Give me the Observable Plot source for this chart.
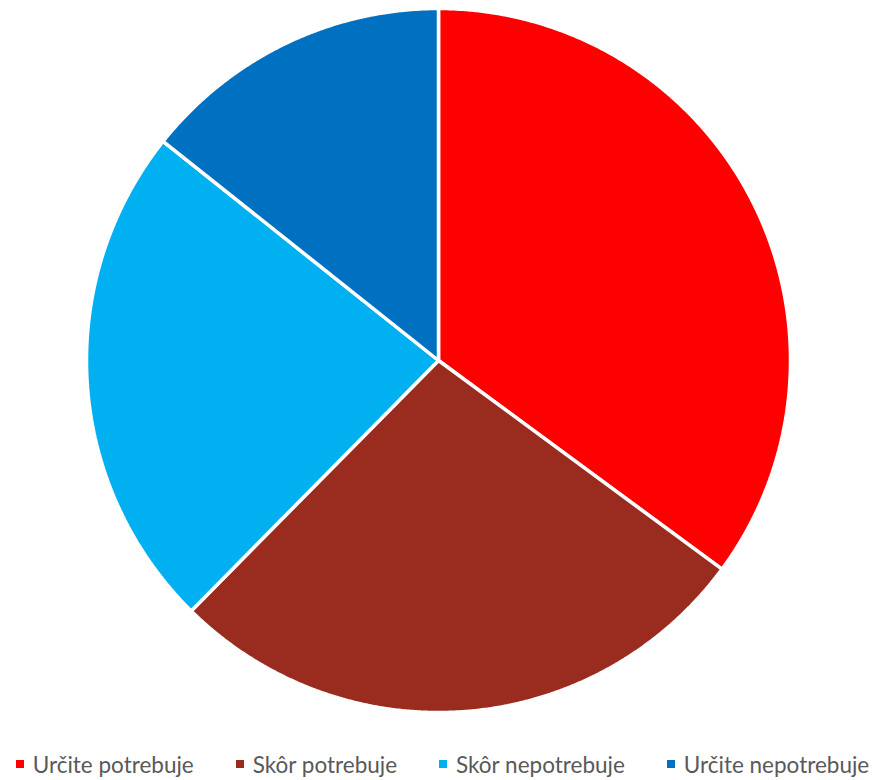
<!DOCTYPE html>
<html>
<head>
<meta charset="utf-8">
<script src="https://cdn.jsdelivr.net/npm/d3@7"></script>
<script src="https://cdn.jsdelivr.net/npm/@observablehq/plot@0.6"></script>
<style>
  body { margin: 0; background: #fff; font-family: Lato, "Liberation Sans", sans-serif; }
  #legend { display: flex; justify-content: center; gap: 42px; height: 48px; align-items: center; font-size: 22.5px; color: #595959; padding-left: 10px; }
  .item { display: flex; align-items: center; }
  .sw { width: 8px; height: 8px; margin-right: 9px; }
</style>
</head>
<body>
<div id="chart"></div>
<div id="legend"></div>
<script>
const categories = ["Určite potrebuje", "Skôr potrebuje", "Skôr nepotrebuje", "Určite nepotrebuje"];
const values = [35.1, 27.3, 23.3, 14.3];
const colors = ["#FF0000", "#992C1F", "#00B0F0", "#0070C0"];

const pie = d3.pie().sort(null).value(d => d.value)(categories.map((c, i) => ({category: c, value: values[i]})));
const pts = [];
pie.forEach(s => {
  pts.push({category: s.data.category, x: 0, y: 0});
  const n = Math.max(2, Math.ceil((s.endAngle - s.startAngle) / 0.005));
  for (let k = 0; k <= n; k++) {
    const a = s.startAngle + (s.endAngle - s.startAngle) * k / n;
    pts.push({category: s.data.category, x: Math.sin(a), y: Math.cos(a)});
  }
});

const chart = Plot.plot({
  width: 875,
  height: 740,
  marginLeft: 86,
  marginRight: 85,
  marginTop: 8,
  marginBottom: 28,
  x: {domain: [-1, 1], axis: null},
  y: {domain: [-1, 1], axis: null},
  color: {domain: categories, range: colors},
  marks: [
    Plot.line(pts, {x: "x", y: "y", z: "category", fill: "category", stroke: "white", strokeWidth: 3.5, strokeLinejoin: "miter", curve: "linear-closed"})
  ]
});
document.getElementById("chart").appendChild(chart);

const legend = document.getElementById("legend");
categories.forEach((c, i) => {
  const it = document.createElement("div");
  it.className = "item";
  it.innerHTML = `<span class="sw" style="background:${colors[i]}"></span><span>${c}</span>`;
  legend.appendChild(it);
});
</script>
</body>
</html>
